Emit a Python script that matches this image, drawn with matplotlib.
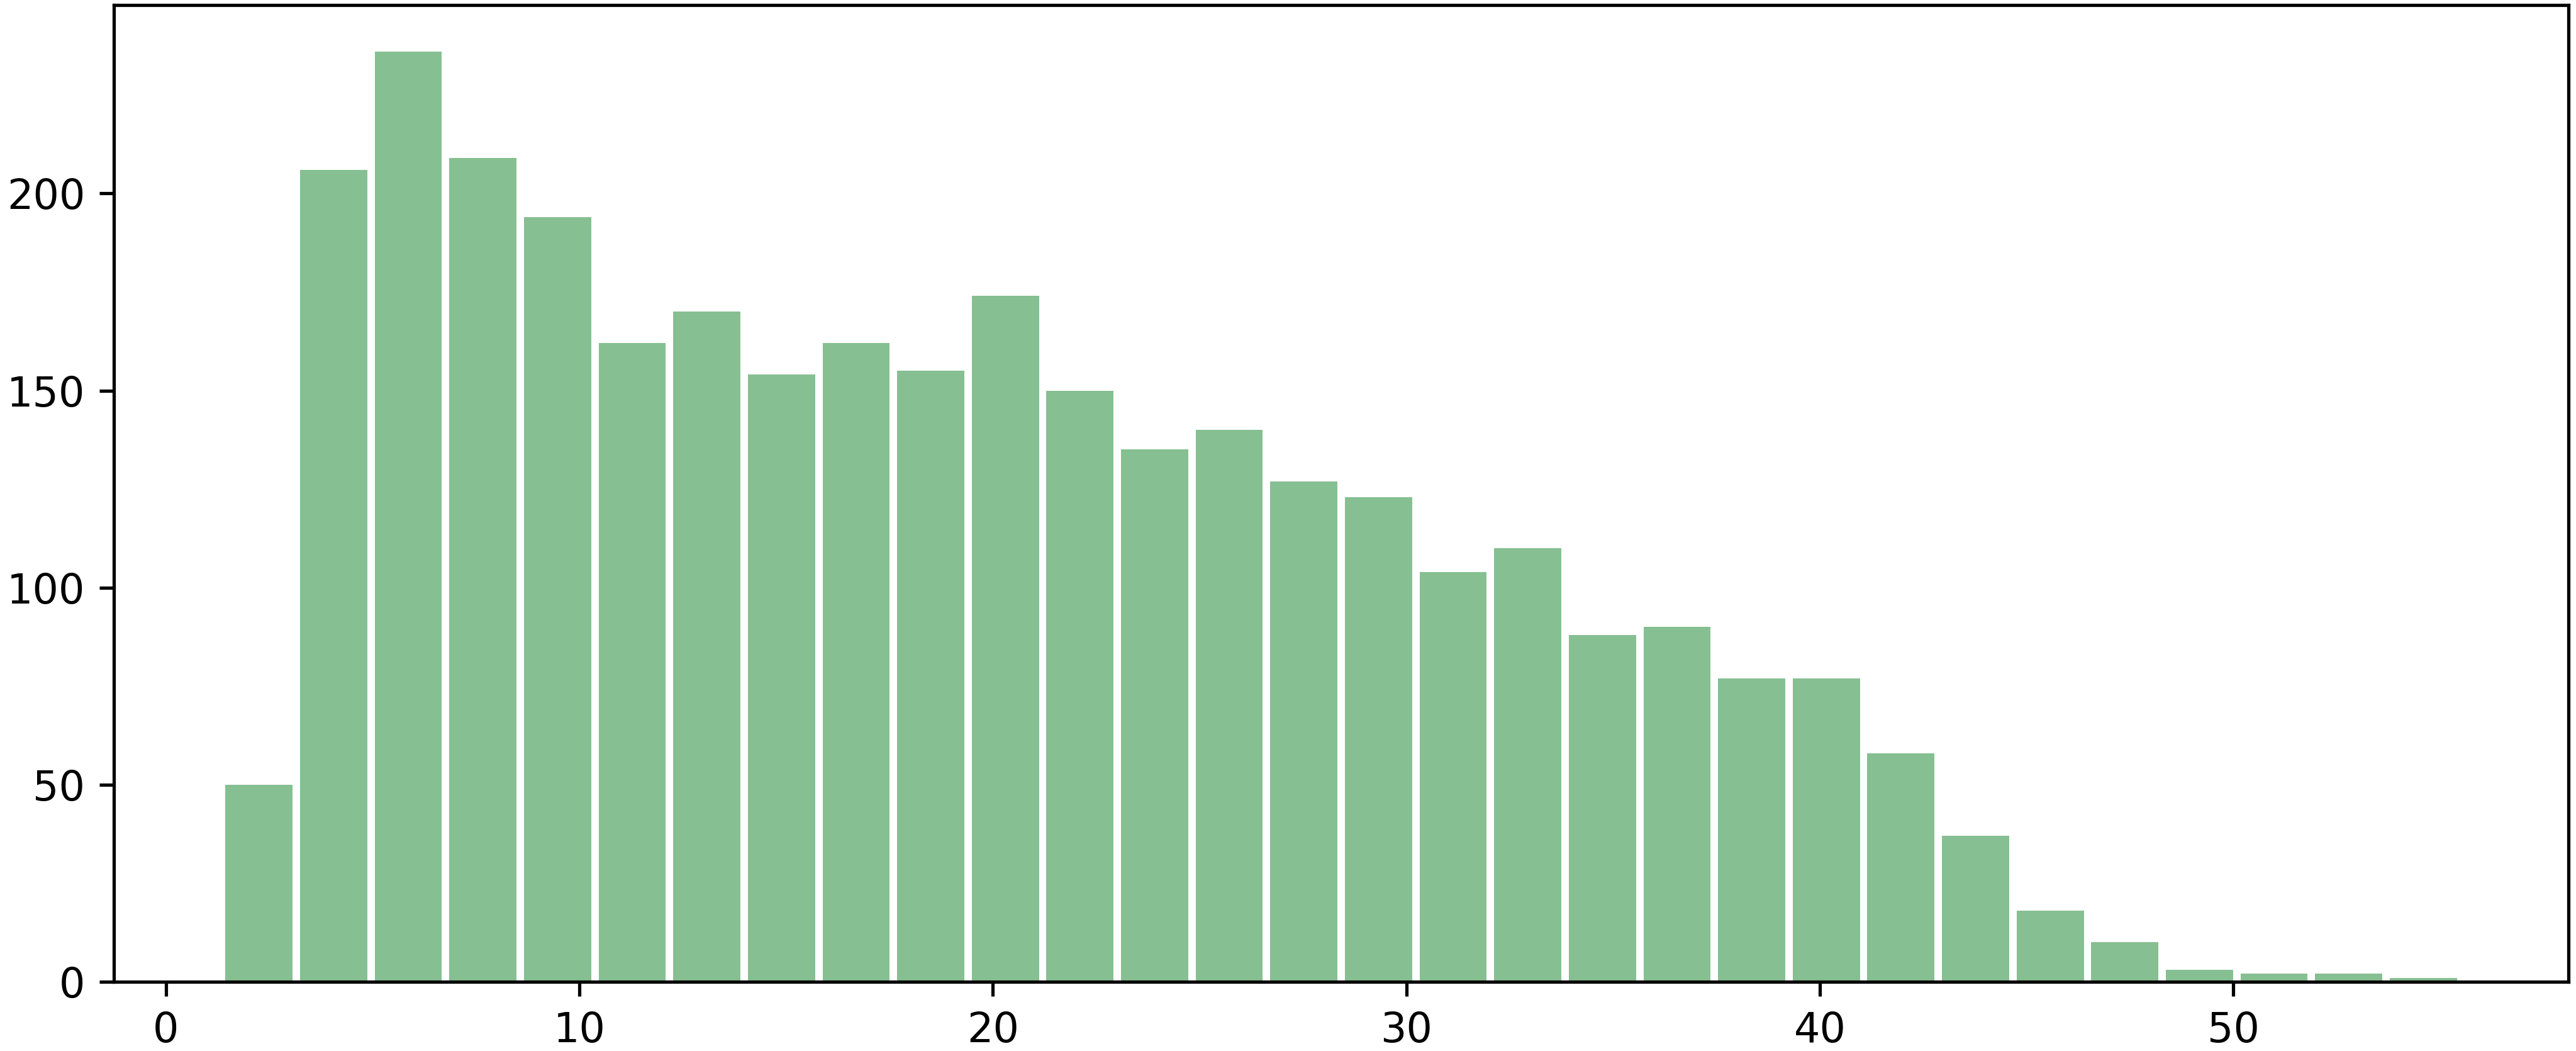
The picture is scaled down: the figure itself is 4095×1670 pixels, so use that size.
import numpy as np
import matplotlib
matplotlib.use('Agg')
import matplotlib.pyplot as plt

# conteos por bin, 30 bins entre el mínimo y el máximo
counts = [50, 206, 236, 209, 194, 162, 170, 154, 162, 155,
          174, 150, 135, 140, 127, 123, 104, 110, 88, 90,
          77, 77, 58, 37, 18, 10, 3, 2, 2, 1]
x_min = 1.35
x_max = 55.5
n_bins = 30

edges = np.linspace(x_min, x_max, n_bins + 1)
centers = (edges[:-1] + edges[1:]) / 2

fig = plt.figure(figsize=(4095 / 470, 1670 / 470), dpi=470)
ax = fig.add_axes([0.0442, 0.0659, 0.9529, 0.9293])
ax.hist(centers, bins=edges, weights=counts, rwidth=0.9, color='#86bf91')
ax.set_xticks([0, 10, 20, 30, 40, 50])
ax.set_yticks([0, 50, 100, 150, 200])

fig.savefig('out.png', dpi=470)
